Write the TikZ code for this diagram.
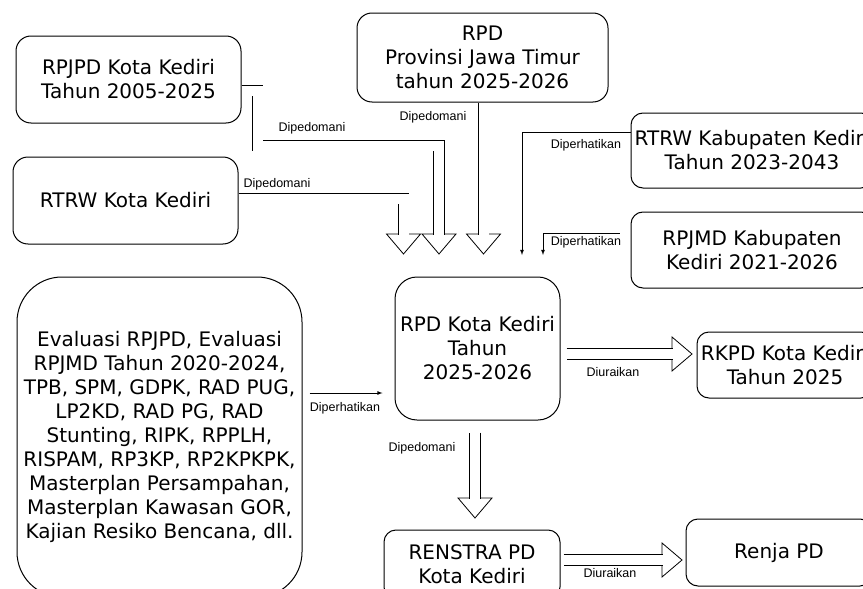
\documentclass[tikz,border=0pt]{standalone}
\usepackage{fontspec}
\setmainfont{DejaVu Sans}
\newfontfamily\lblfont{Liberation Sans}
\usetikzlibrary{arrows,calc}
\newcommand{\headdown}[1]{\draw[head] ($(#1)+(-17, 0)$) -- ($(#1)+(0, 20)$) -- ($(#1)+(17, 0)$) -- cycle;}
\newcommand{\headright}[1]{\draw[head] ($(#1)+(0, -17)$) -- ($(#1)+(20, 0)$) -- ($(#1)+(0, 17)$) -- cycle;}
\tikzset{
  box/.style={draw, line width=1pt, rounded corners=15pt, align=center, inner sep=0pt, font=\fontsize{20}{24}\selectfont},
  lbl/.style={font=\lblfont\fontsize{12.5}{14}\selectfont, inner sep=0pt},
  flow/.style={draw, line width=0.8pt, double=white, double distance=10pt, shorten >=-1.2pt},
  head/.style={draw, line width=0.8pt, fill=white, line join=miter},
  note/.style={draw, line width=0.8pt, -latex}
}

\begin{document}
\begin{tikzpicture}[x=1pt, y=-1pt]
      \useasboundingbox (0, 0) rectangle (863, 589);
      \clip (0, 0) rectangle (863, 589);
      %nodes
      \node[box, minimum width=225pt, minimum height=87pt] (rpjpd) at (128.5, 79.5) {RPJPD Kota Kediri\\Tahun 2005-2025};
      \node[box, minimum width=225pt, minimum height=87pt] (rtrwkota) at (125.5, 200.5) {RTRW Kota Kediri};
      \node[box, minimum width=251pt, minimum height=89pt] (rpdprov) at (482.5, 57.5) {RPD\\Provinsi Jawa Timur\\tahun 2025-2026};
      \node[box, rounded corners=12pt, minimum width=242pt, minimum height=75pt] (rtrwkab) at (752, 150.5) {RTRW Kabupaten Kediri\\Tahun 2023-2043};
      \node[box, rounded corners=12pt, minimum width=242pt, minimum height=76pt] (rpjmd) at (752, 250) {RPJMD Kabupaten\\Kediri 2021-2026};
      \node[box, rounded corners=22pt, minimum width=165pt, minimum height=143pt] (rpd) at (477.5, 348.5) {RPD Kota Kediri\\Tahun\\2025-2026};
      \node[box, rounded corners=45pt, minimum width=285pt, minimum height=320pt] (eval) at (159.5, 437) {Evaluasi RPJPD, Evaluasi\\RPJMD Tahun 2020-2024,\\TPB, SPM, GDPK, RAD PUG,\\LP2KD, RAD PG, RAD\\Stunting, RIPK, RPPLH,\\RISPAM, RP3KP, RP2KPKPK,\\Masterplan Persampahan,\\Masterplan Kawasan GOR,\\Kajian Resiko Bencana, dll.};
      \node[box, rounded corners=12pt, minimum width=176pt, minimum height=66pt] (rkpd) at (785, 365) {RKPD Kota Kediri\\Tahun 2025};
      \node[box, rounded corners=12pt, minimum width=176pt, minimum height=69pt] (renstra) at (472, 564.5) {RENSTRA PD\\Kota Kediri};
      \node[box, rounded corners=12pt, minimum width=186pt, minimum height=67pt] (renja) at (779, 552.5) {Renja PD};
      %arrow heads
      \coordinate (hb1) at (439, 234);
      \coordinate (hb2) at (403.5, 234);
      \coordinate (hb3) at (483.5, 234);
      \coordinate (hb4) at (672, 354);
      \coordinate (hb5) at (475, 498);
      \coordinate (hb6) at (662, 560);
      \headdown{hb1}
      \headdown{hb2}
      \headdown{hb3}
      \headright{hb4}
      \headdown{hb5}
      \headright{hb6}
      \coordinate (t1) at (522, 255);
      \coordinate (t2) at (543, 255);
      %edges
      \draw[flow] (rpjpd.east |- 0, 90.5) -| (257.5, 145.5) -| (hb1);
      \draw[flow] (rtrwkota.east |- 0, 198.5) -| (hb2);
      \draw[flow] (rpdprov.south -| hb3) -- (hb3);
      \draw[flow, shorten <=6pt] (rpd.east |- hb4) -- (hb4);
      \draw[flow, shorten <=12pt] (rpd.south -| hb5) -- (hb5);
      \draw[flow, shorten <=3pt] (renstra.east |- hb6) -- (hb6);
      \draw[note] (rtrwkab.west |- 0, 132) -| (t1);
      \draw[note, shorten <=11pt] (rpjmd.west |- 0, 233) -| (t2);
      \draw[note, shorten <=7pt, shorten >=12pt] (eval.east |- 0, 393) -- (rpd.west |- 0, 393);
      %labels
      \node[lbl] (l1) at (312, 128) {Dipedomani};
      \node[lbl] (l2) at (277, 184) {Dipedomani};
      \node[lbl] (l3) at (433, 117) {Dipedomani};
      \node[lbl] (l4) at (586, 145) {Diperhatikan};
      \node[lbl] (l5) at (586, 242) {Diperhatikan};
      \node[lbl] (l6) at (345, 408) {Diperhatikan};
      \node[lbl] (l7) at (613, 372) {Diuraikan};
      \node[lbl] (l8) at (422, 448) {Dipedomani};
      \node[lbl] (l9) at (610, 573) {Diuraikan};
\end{tikzpicture}
\end{document}
